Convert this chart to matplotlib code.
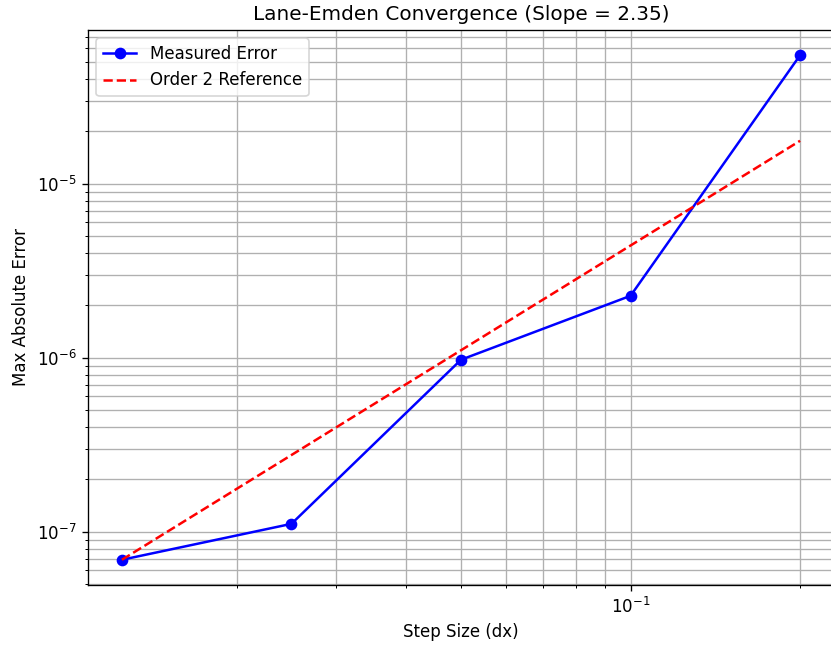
import matplotlib
matplotlib.use("Agg")
import matplotlib.pyplot as plt
import numpy as np

dx = [0.0125, 0.025, 0.05, 0.1, 0.2]
err = [6.9e-8, 1.11e-7, 9.74e-7, 2.27e-6, 5.48e-5]
ref = [err[0] * (d / dx[0]) ** 2 for d in dx]

DPI = 120
fig = plt.figure(figsize=(831 / DPI, 649 / DPI), dpi=DPI)
ax = fig.add_axes([88 / 831, (649 - 585) / 649, (834 - 88) / 831, 555 / 649])
ax.loglog(dx, err, 'bo-', label='Measured Error')
ax.loglog(dx, ref, 'r--', label='Order 2 Reference')
ax.set_xlabel('Step Size (dx)')
ax.set_ylabel('Max Absolute Error')
ax.set_title('Lane-Emden Convergence (Slope = 2.35)')
ax.grid(True, which='both')
ax.legend(loc='upper left')
fig.savefig('out.png', dpi=DPI)
